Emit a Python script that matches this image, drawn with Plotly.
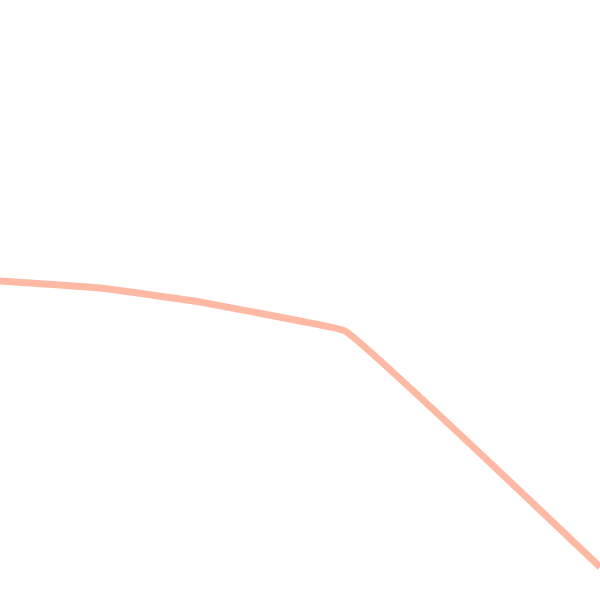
import plotly.graph_objects as go

# line (x left->right, y bottom->top, 0..600 space)
xs = [0, 100, 200, 300, 345, 600]
ys = [319, 312, 298, 279, 269, 33]

fig = go.Figure()
fig.add_trace(go.Scatter(
    x=xs, y=ys, mode='lines',
    line=dict(color='rgba(252,168,140,0.8)', width=7, shape='spline', smoothing=0.3),
    hoverinfo='skip', showlegend=False,
))
fig.update_xaxes(range=[0, 600], visible=False)
fig.update_yaxes(range=[0, 600], visible=False)
fig.update_layout(
    width=600, height=600,
    margin=dict(l=0, r=0, t=0, b=0),
    paper_bgcolor='white', plot_bgcolor='white',
)
# drop the default 8px body margin so the plot fills the window
fig.write_html("out.html", config={'displayModeBar': False},
               post_script="document.body.style.margin='0';document.body.style.overflow='hidden';")
